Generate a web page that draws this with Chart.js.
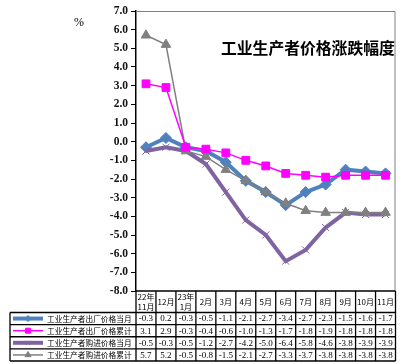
<!DOCTYPE html>
<html><head><meta charset="utf-8">
<script src="https://cdn.jsdelivr.net/npm/chart.js@4"></script>
<style>html,body{margin:0;padding:0;background:#fff}#wrap{width:402px;height:364px;position:relative}</style>
</head><body><div id="wrap"><canvas id="c" width="402" height="364"></canvas></div>
<script>
const categories = [["22年","11月"],["12月"],["23年","1月"],["2月"],["3月"],["4月"],["5月"],["6月"],["7月"],["8月"],["9月"],["10月"],["11月"]];
const seriesNames = ["工业生产者出厂价格当月","工业生产者出厂价格累计","工业生产者购进价格当月","工业生产者购进价格累计"];
const ppiMonth = [-0.3,0.2,-0.3,-0.5,-1.1,-2.1,-2.7,-3.4,-2.7,-2.3,-1.5,-1.6,-1.7];
const ppiCum   = [3.1,2.9,-0.3,-0.4,-0.6,-1.0,-1.3,-1.7,-1.8,-1.9,-1.8,-1.8,-1.8];
const ppirmMonth = [-0.5,-0.3,-0.5,-1.2,-2.7,-4.2,-5.0,-6.4,-5.8,-4.6,-3.8,-3.9,-3.9];
const ppirmCum   = [5.7,5.2,-0.5,-0.8,-1.5,-2.1,-2.7,-3.3,-3.7,-3.8,-3.8,-3.8,-3.8];
const yMin = -8, yMax = 7, yStep = 1;
const titleText = "工业生产者价格涨跌幅度";
const unitText = "%";

const SERIF = "'Liberation Serif','DejaVu Serif',serif";
const CJK = "'Noto Sans CJK SC','Noto Sans',sans-serif";

const datasets = [
  {label:seriesNames[0], data:ppiMonth, borderColor:'#4F81BD', backgroundColor:'#4F81BD', borderWidth:4, pointStyle:'rectRot', pointRadius:5.5, pointBorderWidth:1, order:4, legendR:3},
  {label:seriesNames[1], data:ppiCum, borderColor:'#FF00FF', backgroundColor:'#FF00FF', borderWidth:1.5, pointStyle:'rect', pointRadius:5.5, pointBorderWidth:1, order:1, legendR:3.5},
  {label:seriesNames[2], data:ppirmMonth, borderColor:'#8064A2', backgroundColor:'#8064A2', borderWidth:4, pointStyle:'crossRot', pointRadius:5, pointBorderWidth:1, order:3, legendR:3},
  {label:seriesNames[3], data:ppirmCum, borderColor:'#808080', backgroundColor:'#808080', borderWidth:1.5, pointStyle:'triangle', pointRadius:5.5, pointBorderWidth:1, order:2, legendR:3.5}
];
datasets.forEach(d=>{d.tension=0; d.fill=false; d.pointHoverRadius=d.pointRadius;});

const TABLE_BOTTOM = 361;
function fitFont(ctx, text, maxW, base, family){
  let s = base;
  ctx.font = s + "px " + family;
  while(ctx.measureText(text).width > maxW && s > 5){ s -= 0.1; ctx.font = s.toFixed(1) + "px " + family; }
}
const overlay = {
  id:'overlay',
  afterDraw(chart){
    const ctx = chart.ctx, a = chart.chartArea, xs = chart.scales.x;
    const n = categories.length;
    const step = xs.getPixelForValue(1) - xs.getPixelForValue(0);
    const colL = i => xs.getPixelForValue(i) - step/2;
    const tblTop = a.bottom, hdrBottom = a.bottom + 21.5;
    const rowH = (TABLE_BOTTOM - hdrBottom)/seriesNames.length;
    const legL = 10;
    ctx.save();
    ctx.strokeStyle = '#808080'; ctx.lineWidth = 1;
    ctx.beginPath(); ctx.moveTo(a.left, a.top+0.5); ctx.lineTo(a.right-0.5, a.top+0.5); ctx.lineTo(a.right-0.5, a.bottom); ctx.stroke();
    ctx.fillStyle = '#000';
    ctx.textAlign='left'; ctx.textBaseline='middle';
    fitFont(ctx, titleText, 174, 16, CJK);
    ctx.font = "bold " + ctx.font;
    ctx.fillText(titleText, 221, 48);
    ctx.font = "12px " + SERIF; ctx.textAlign='center';
    ctx.fillText(unitText, 79, 23);
    ctx.strokeStyle = '#000'; ctx.lineWidth = 1.3;
    ctx.beginPath();
    ctx.moveTo(colL(0), tblTop); ctx.lineTo(colL(n), tblTop);
    ctx.moveTo(legL, hdrBottom); ctx.lineTo(colL(n), hdrBottom);
    for(let r=1;r<=seriesNames.length;r++){ const y = hdrBottom + r*rowH; ctx.moveTo(legL, y); ctx.lineTo(colL(n), y); }
    for(let i=0;i<=n;i++){ ctx.moveTo(colL(i), tblTop); ctx.lineTo(colL(i), TABLE_BOTTOM); }
    ctx.moveTo(legL, hdrBottom); ctx.lineTo(legL, TABLE_BOTTOM);
    ctx.stroke();
    ctx.font = "8px " + CJK; ctx.textAlign='center'; ctx.textBaseline='middle';
    const hMid = (tblTop + hdrBottom)/2;
    categories.forEach((c,i)=>{
      const x = xs.getPixelForValue(i);
      if(c.length===1){ ctx.fillText(c[0], x, hMid); }
      else { ctx.fillText(c[0], x, hMid-5); ctx.fillText(c[1], x, hMid+5); }
    });
    chart.data.datasets.forEach((d,r)=>{
      const yc = hdrBottom + (r+0.5)*rowH;
      ctx.font = "9px " + SERIF; ctx.textAlign='center'; ctx.fillStyle='#000';
      d.data.forEach((v,i)=>{ ctx.fillText(v.toFixed(1), xs.getPixelForValue(i), yc+0.5); });
      ctx.strokeStyle = d.borderColor; ctx.lineWidth = d.borderWidth;
      ctx.beginPath(); ctx.moveTo(13, yc); ctx.lineTo(43, yc); ctx.stroke();
      ctx.save(); ctx.fillStyle = d.backgroundColor; ctx.strokeStyle = d.borderColor; ctx.lineWidth = 1;
      Chart.helpers.drawPoint(ctx, {pointStyle:d.pointStyle, radius:d.legendR, borderWidth:1, rotation:0}, 28, yc);
      ctx.restore();
      ctx.fillStyle = '#000'; ctx.textAlign='left';
      fitFont(ctx, d.label, 85, 8.6, CJK);
      ctx.fillText(d.label, 47, yc+0.5);
    });
    ctx.restore();
  }
};

new Chart(document.getElementById('c'), {
  type:'line',
  data:{labels:categories.map(c=>c.join('')), datasets},
  options:{
    responsive:false, animation:false, devicePixelRatio:1,
    layout:{padding:{top:11, right:4, bottom:73, left:0}},
    plugins:{legend:{display:false}, tooltip:{enabled:false}, title:{display:false}},
    scales:{
      x:{display:false, offset:true},
      y:{min:yMin, max:yMax,
         afterFit(s){ s.width = 136; },
         ticks:{stepSize:yStep, callback:v=>Number(v).toFixed(1), color:'#111', padding:3,
                font:{family:SERIF, size:11.5, weight:'bold'}},
         grid:{drawOnChartArea:false, drawTicks:true, tickLength:5, color:'#000'},
         border:{display:true, color:'#000', width:1.5}}
    }
  },
  plugins:[overlay]
});
</script></body></html>
